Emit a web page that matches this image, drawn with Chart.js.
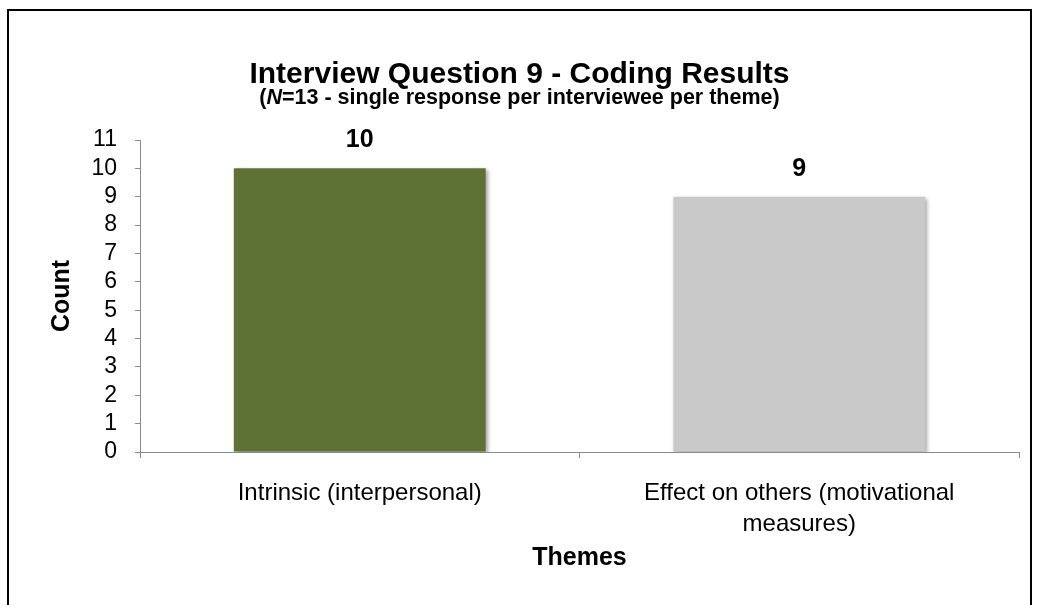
<!DOCTYPE html>
<html>
<head>
<meta charset="utf-8">
<script src="https://cdn.jsdelivr.net/npm/chart.js@4"></script>
<style>
    html, body { margin: 0; padding: 0; background: #fff; }
    #wrap { position: relative; width: 1039px; height: 605px; overflow: hidden; }
    #frame { position: absolute; left: 7px; top: 9px; width: 1025px; height: 620px;
             border-left: 2px solid #000; border-top: 2px solid #000; border-right: 2px solid #000; box-sizing: border-box; }
    canvas { position: absolute; left: 0; top: 0; }
</style>
</head>
<body>
<div id="wrap">
    <div id="frame"></div>
    <canvas id="chart" width="1039" height="605"></canvas>
</div>
<script>
// 資料
const themes = ['Intrinsic (interpersonal)', ['Effect on others (motivational', 'measures)']];
const counts = [10, 9];
const barColors = ['#5f7236', '#c9c9c9'];
const yTicks = [0, 1, 2, 3, 4, 5, 6, 7, 8, 9, 10, 11];

const titleText = 'Interview Question 9 - Coding Results';
const subPre = '(';
const subItalic = 'N';
const subPost = '=13 - single response per interviewee per theme)';

const FONT = 'Liberation Sans, Arial, sans-serif';

// 標題 (副標題有斜體 N)
const titlePlugin = {
    id: 'titles',
    afterDraw(chart) {
        const ctx = chart.ctx;
        const cx = 519.5;
        ctx.save();
        ctx.fillStyle = '#000';
        ctx.textBaseline = 'alphabetic';
        ctx.textAlign = 'center';
        ctx.font = 'bold 30px ' + FONT;
        ctx.fillText(titleText, cx, 83);

        ctx.textAlign = 'left';
        const fN = 'bold 21.5px ' + FONT;
        const fI = 'italic bold 21.5px ' + FONT;
        ctx.font = fN;
        const w1 = ctx.measureText(subPre).width;
        const w3 = ctx.measureText(subPost).width;
        ctx.font = fI;
        const w2 = ctx.measureText(subItalic).width;
        let x = cx - (w1 + w2 + w3) / 2;
        const y = 104;
        ctx.font = fN;
        ctx.fillText(subPre, x, y);
        x += w1;
        ctx.font = fI;
        ctx.fillText(subItalic, x, y);
        x += w2;
        ctx.font = fN;
        ctx.fillText(subPost, x, y);
        ctx.restore();
    }
};

// 長條陰影
const shadowPlugin = {
    id: 'barShadow',
    beforeDatasetDraw(chart) {
        const ctx = chart.ctx;
        ctx.save();
        ctx.shadowColor = 'rgba(0,0,0,0.35)';
        ctx.shadowBlur = 4;
        ctx.shadowOffsetX = 2;
        ctx.shadowOffsetY = 2;
    },
    afterDatasetDraw(chart) {
        chart.ctx.restore();
    }
};

// 數值標籤
const valuePlugin = {
    id: 'values',
    afterDatasetsDraw(chart) {
        const ctx = chart.ctx;
        const meta = chart.getDatasetMeta(0);
        ctx.save();
        ctx.fillStyle = '#000';
        ctx.font = 'bold 25px ' + FONT;
        ctx.textAlign = 'center';
        ctx.textBaseline = 'middle';
        meta.data.forEach((bar, i) => {
            ctx.fillText(String(counts[i]), bar.x, bar.y - 28);
        });
        ctx.restore();
    }
};

const ctx = document.getElementById('chart').getContext('2d');
new Chart(ctx, {
    type: 'bar',
    data: {
        labels: themes,
        datasets: [{
            data: counts,
            backgroundColor: barColors,
            borderWidth: 0,
            barPercentage: 0.573,
            categoryPercentage: 1.0
        }]
    },
    options: {
        responsive: false,
        animation: false,
        devicePixelRatio: 1,
        layout: { padding: { left: 0, top: 140, right: 20, bottom: 0 } },
        plugins: {
            legend: { display: false },
            tooltip: { enabled: false },
            title: { display: false }
        },
        scales: {
            x: {
                afterFit(scale) { scale.height = 153; },
                grid: {
                    display: true,
                    offset: true,
                    drawOnChartArea: false,
                    drawTicks: true,
                    tickLength: 6,
                    color: '#8a8a8a'
                },
                border: { display: true, color: '#8a8a8a', width: 1 },
                ticks: {
                    color: '#000',
                    font: { family: FONT, size: 24, lineHeight: 1.3 },
                    padding: 20,
                    maxRotation: 0,
                    autoSkip: false
                },
                title: {
                    display: true,
                    text: 'Themes',
                    color: '#000',
                    font: { family: FONT, size: 25, weight: 'bold' },
                    padding: { top: 0, bottom: 32 }
                }
            },
            y: {
                min: 0,
                max: 11,
                afterFit(scale) { scale.width = 140; },
                afterBuildTicks(scale) { scale.ticks = yTicks.map(v => ({ value: v })); },
                grid: {
                    display: true,
                    drawOnChartArea: false,
                    drawTicks: true,
                    tickLength: 5,
                    color: '#8a8a8a'
                },
                border: { display: true, color: '#8a8a8a', width: 1 },
                ticks: {
                    color: '#000',
                    font: { family: FONT, size: 23 },
                    padding: 18,
                    autoSkip: false,
                    stepSize: 1
                },
                title: {
                    display: true,
                    text: 'Count',
                    color: '#000',
                    font: { family: FONT, size: 25, weight: 'bold' },
                    padding: { top: 47, bottom: 0 }
                }
            }
        }
    },
    plugins: [shadowPlugin, valuePlugin, titlePlugin]
});
</script>
</body>
</html>
